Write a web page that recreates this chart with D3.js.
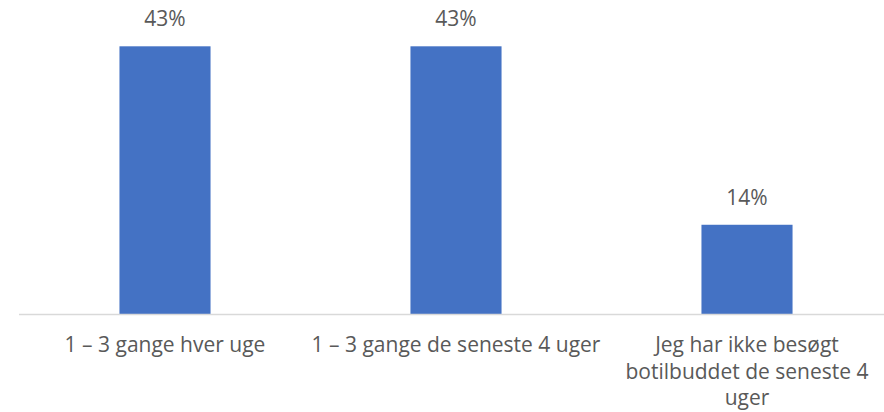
<!DOCTYPE html>
<html>
<head>
<meta charset="utf-8">
<script src="https://cdn.jsdelivr.net/npm/d3@7"></script>
<style>
  html, body { margin: 0; padding: 0; background: #fff; }
  svg { display: block; }
  text { font-family: "Open Sans", Lato, sans-serif; fill: #595959; }
</style>
</head>
<body>
<svg id="chart" width="884" height="412"></svg>
<script>
const categories = ["1 – 3 gange hver uge", "1 – 3 gange de seneste 4 uger", "Jeg har ikke besøgt botilbuddet de seneste 4 uger"];
const categoryLines = [
  ["1 – 3 gange hver uge"],
  ["1 – 3 gange de seneste 4 uger"],
  ["Jeg har ikke besøgt", "botilbuddet de seneste 4", "uger"]
];
const values = [42.9, 42.9, 14.3];
const valueLabels = ["43%", "43%", "14%"];

const W = 884, H = 412;
const svg = d3.select("#chart");
const axisY = 314;

const x = d3.scaleBand().domain(categories).range([19.5, 892.5]).padding(0);
const y = d3.scaleLinear().domain([0, 50]).range([axisY, 2]);
const barW = x.bandwidth() * 0.313;

svg.append("g").selectAll("rect").data(categories).join("rect")
  .attr("x", (d) => x(d) + x.bandwidth() / 2 - barW / 2)
  .attr("width", barW)
  .attr("y", (d, i) => y(values[i]))
  .attr("height", (d, i) => axisY - y(values[i]))
  .attr("fill", "#4472C4");

svg.append("line")
  .attr("x1", 19).attr("x2", W)
  .attr("y1", axisY + 0.5).attr("y2", axisY + 0.5)
  .attr("stroke", "#D9D9D9").attr("stroke-width", 1.5);

svg.append("g").selectAll("text").data(categories).join("text")
  .attr("x", (d) => x(d) + x.bandwidth() / 2)
  .attr("y", (d, i) => y(values[i]) - 20)
  .attr("text-anchor", "middle")
  .style("font-size", "21px")
  .text((d, i) => valueLabels[i]);

const labels = svg.append("g");
categories.forEach((c, i) => {
  const cx = x(c) + x.bandwidth() / 2;
  const t = labels.append("text")
    .attr("x", cx)
    .attr("y", 352)
    .attr("text-anchor", "middle")
    .style("font-size", "21px");
  categoryLines[i].forEach((ln, j) => {
    t.append("tspan").attr("x", cx).attr("dy", j === 0 ? 0 : 26.5).text(ln);
  });
});
</script>
</body>
</html>
